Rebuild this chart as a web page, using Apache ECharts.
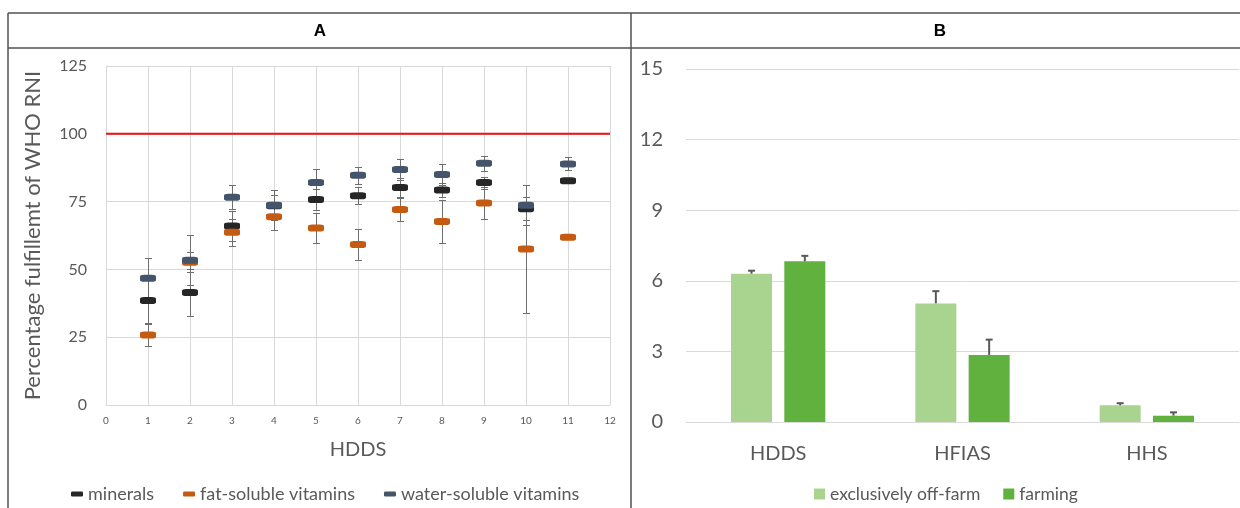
<!DOCTYPE html>
<html><head><meta charset="utf-8">
<script src="https://cdn.jsdelivr.net/npm/echarts@6/dist/echarts.min.js"></script>
<style>html,body{margin:0;padding:0;background:#fff}#c{width:1240px;height:508px}</style>
</head><body><div id="c"></div>
<script>
// ---------- Panel A data ----------
const hddsScores   = [1, 2, 3, 4, 5, 6, 7, 8, 9, 10, 11];
const mineralsMean = [38.5, 41.5, 66.0, 73.5, 75.8, 77.2, 80.2, 79.3, 82.0, 72.4, 82.7];
const mineralsErr  = [8.4, 8.5, 5.7, 4.0, 3.8, 3.2, 3.5, 2.7, 2.2, 4.2, 0.8];
const fatMean      = [25.8, 52.6, 63.7, 69.4, 65.3, 59.2, 72.1, 67.7, 74.5, 57.5, 61.9];
const fatErr       = [4.0, 3.7, 4.9, 5.0, 5.5, 5.8, 4.3, 7.9, 6.0, 23.5, 0.8];
const waterMean    = [46.7, 53.4, 76.6, 73.7, 82.0, 84.7, 86.8, 85.0, 89.1, 73.7, 88.9];
const waterErr     = [7.4, 9.2, 4.4, 5.4, 5.0, 3.1, 4.0, 3.9, 2.8, 7.5, 2.4];
const rniTarget    = 100;
const seriesNamesA = ['minerals', 'fat-soluble vitamins', 'water-soluble vitamins'];

// ---------- Panel B data ----------
const indicators   = ['HDDS', 'HFIAS', 'HHS'];
const offFarm      = [6.30, 5.04, 0.71];
const offFarmErr   = [0.13, 0.52, 0.09];
const farming      = [6.83, 2.85, 0.27];
const farmingErr   = [0.23, 0.65, 0.14];
const seriesNamesB = ['exclusively off-farm', 'farming'];

// ---------- style constants ----------
const FONT = 'Lato';
const TXT = '#595959';
const GRIDC = '#d9d9d9';
const colA = ['#262626', '#c55a11', '#44546a'];
const colB = ['#a9d490', '#60b13e'];
const BAR_W = 41, BAR_GAP_PCT = 30;

const chart = echarts.init(document.getElementById('c'));

function triples(xs, ys, es) { return xs.map((x, i) => [x, ys[i], es[i]]); }
const px = v => Math.round(v) + 0.5;

function errA(params, api) {
  const x = api.value(0), m = api.value(1), e = api.value(2);
  const t = api.coord([x, m + e]), b = api.coord([x, m - e]);
  const cx = px(t[0]), ty = px(t[1]), by = px(b[1]), hw = 3.5;
  const style = { stroke: '#6e6e6e', lineWidth: 1 };
  return { type: 'group', children: [
    { type: 'line', shape: { x1: cx, y1: ty, x2: cx, y2: by }, style },
    { type: 'line', shape: { x1: cx - hw, y1: ty, x2: cx + hw, y2: ty }, style },
    { type: 'line', shape: { x1: cx - hw, y1: by, x2: cx + hw, y2: by }, style }
  ]};
}
function errB(offset) {
  return function (params, api) {
    const i = api.value(0), m = api.value(1), e = api.value(2);
    const t = api.coord([i, m + e]), b = api.coord([i, m]);
    const cx = t[0] + offset, hw = 3.5;
    const style = { stroke: '#595959', lineWidth: 2 };
    return { type: 'group', children: [
      { type: 'line', shape: { x1: cx, y1: t[1], x2: cx, y2: b[1] }, style },
      { type: 'line', shape: { x1: cx - hw, y1: t[1], x2: cx + hw, y2: t[1] }, style }
    ]};
  };
}
const barOffset = (BAR_W + BAR_W * BAR_GAP_PCT / 100) / 2;

const meansA = [mineralsMean, fatMean, waterMean];
const errsA = [mineralsErr, fatErr, waterErr];

const seriesA = [];
seriesNamesA.forEach((n, k) => {
  seriesA.push({
    name: n + ' err', type: 'custom', xAxisIndex: 0, yAxisIndex: 0, z: 2,
    renderItem: errA, data: triples(hddsScores, meansA[k], errsA[k]),
    encode: { x: 0, y: [1] }, silent: true
  });
});
seriesNamesA.forEach((n, k) => {
  seriesA.push({
    name: n, type: 'scatter', xAxisIndex: 0, yAxisIndex: 0, z: 5,
    symbol: 'roundRect', symbolSize: [16, 7],
    itemStyle: { color: colA[k], opacity: 1 },
    data: hddsScores.map((x, i) => [x, meansA[k][i]])
  });
});
seriesA.push({
  name: 'RNI', type: 'line', xAxisIndex: 0, yAxisIndex: 0, z: 4, symbol: 'none',
  lineStyle: { color: '#f01010', width: 2 }, silent: true,
  data: [[0, rniTarget], [12, rniTarget]]
});

const seriesB = [
  { name: seriesNamesB[0], type: 'bar', xAxisIndex: 1, yAxisIndex: 1, barWidth: BAR_W, barGap: BAR_GAP_PCT + '%',
    itemStyle: { color: colB[0] }, data: offFarm },
  { name: seriesNamesB[1], type: 'bar', xAxisIndex: 1, yAxisIndex: 1, barWidth: BAR_W, barGap: BAR_GAP_PCT + '%',
    itemStyle: { color: colB[1] }, data: farming },
  { name: 'offerr', type: 'custom', xAxisIndex: 1, yAxisIndex: 1, z: 5, silent: true,
    renderItem: errB(-barOffset), data: indicators.map((c, i) => [i, offFarm[i], offFarmErr[i]]),
    encode: { x: 0, y: [1] } },
  { name: 'farmerr', type: 'custom', xAxisIndex: 1, yAxisIndex: 1, z: 5, silent: true,
    renderItem: errB(barOffset), data: indicators.map((c, i) => [i, farming[i], farmingErr[i]]),
    encode: { x: 0, y: [1] } }
];

const border = { stroke: '#505050', lineWidth: 1.5 };
chart.setOption({
  animation: false,
  textStyle: { fontFamily: FONT },
  graphic: [
    { type: 'line', shape: { x1: 8, y1: 13, x2: 1240, y2: 13 }, style: border },
    { type: 'line', shape: { x1: 8, y1: 48, x2: 1240, y2: 48 }, style: border },
    { type: 'line', shape: { x1: 8, y1: 13, x2: 8, y2: 508 }, style: border },
    { type: 'line', shape: { x1: 631, y1: 13, x2: 631, y2: 508 }, style: border },
    { type: 'text', x: 320, y: 31, style: { text: 'A', font: 'bold 17px "Liberation Sans"', fill: '#000', align: 'center', verticalAlign: 'middle' } },
    { type: 'text', x: 940, y: 31, style: { text: 'B', font: 'bold 17px "Liberation Sans"', fill: '#000', align: 'center', verticalAlign: 'middle' } }
  ],
  grid: [
    { left: 106, right: 630, top: 66, bottom: 103 },
    { left: 686, right: 1, top: 69, bottom: 86 }
  ],
  legend: [
    { data: seriesNamesA, left: 66, top: 480, itemWidth: 12, itemHeight: 5, itemGap: 29, icon: 'roundRect',
      textStyle: { color: TXT, fontSize: 18, fontFamily: FONT }, selectedMode: false },
    { data: seriesNamesB, left: 809, top: 480, itemWidth: 11, itemHeight: 11, itemGap: 23, icon: 'rect',
      textStyle: { color: TXT, fontSize: 17.5, fontFamily: FONT }, selectedMode: false }
  ],
  xAxis: [
    { type: 'value', gridIndex: 0, min: 0, max: 12, interval: 1,
      name: 'HDDS', nameLocation: 'middle', nameGap: 35,
      nameTextStyle: { color: TXT, fontSize: 20, fontFamily: FONT },
      axisLine: { show: true, lineStyle: { color: GRIDC } }, axisTick: { show: false },
      axisLabel: { color: TXT, fontSize: 10, margin: 11 },
      splitLine: { show: true, lineStyle: { color: GRIDC } } },
    { type: 'category', gridIndex: 1, data: indicators,
      axisLine: { show: true, lineStyle: { color: GRIDC } }, axisTick: { show: false },
      axisLabel: { color: TXT, fontSize: 20, margin: 22 } }
  ],
  yAxis: [
    { type: 'value', gridIndex: 0, min: 0, max: 125, interval: 25,
      name: 'Percentage fulfillemt of WHO RNI', nameLocation: 'middle', nameGap: 62,
      nameTextStyle: { color: TXT, fontSize: 22, fontFamily: FONT },
      axisLine: { show: true, lineStyle: { color: GRIDC } }, axisTick: { show: false },
      axisLabel: { color: TXT, fontSize: 16, margin: 19 },
      splitLine: { show: true, lineStyle: { color: GRIDC } } },
    { type: 'value', gridIndex: 1, min: 0, max: 15, interval: 3,
      axisLine: { show: false }, axisTick: { show: false },
      axisLabel: { color: TXT, fontSize: 20, margin: 23 },
      splitLine: { show: true, lineStyle: { color: GRIDC } } }
  ],
  series: seriesA.concat(seriesB)
});
</script></body></html>
